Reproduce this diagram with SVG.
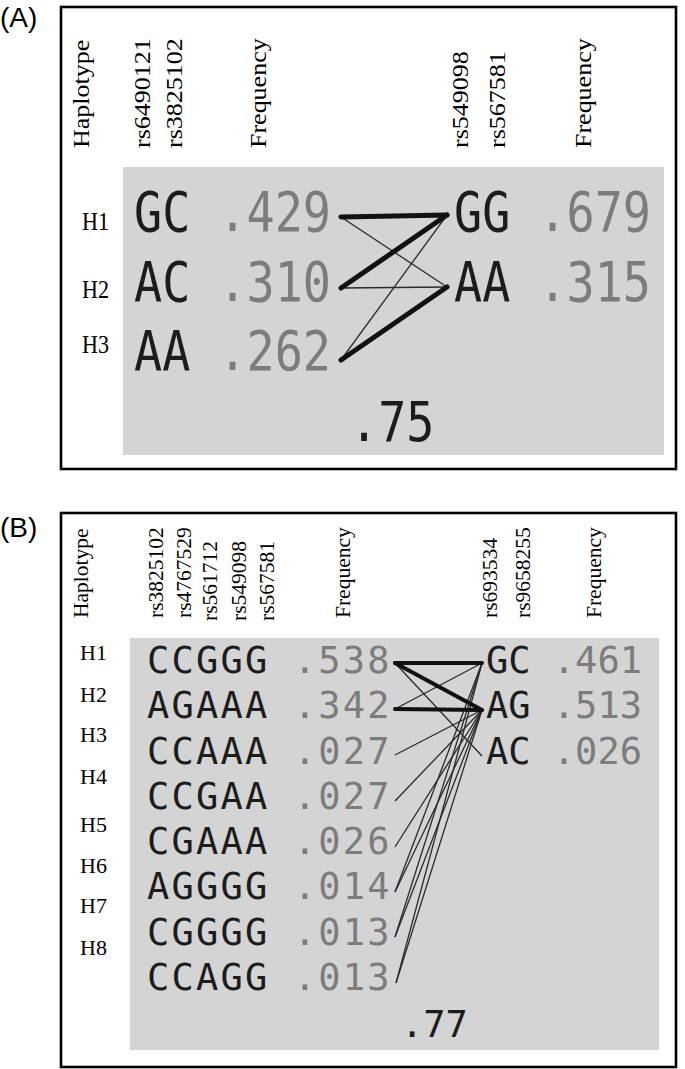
<svg xmlns="http://www.w3.org/2000/svg" width="685" height="1069" viewBox="0 0 685 1069">
<style>
.frame{fill:none;stroke:#000;stroke-width:2.6}
.grey{fill:#d4d4d4}
.panel{font-family:"Liberation Sans",Arial,sans-serif;font-size:28px;fill:#000}
.hdrA{font-family:"Liberation Serif","Times New Roman",serif;font-size:26px;fill:#000}
.hdrB{font-family:"Liberation Serif","Times New Roman",serif;font-size:21.5px;fill:#000}
.hA{font-family:"Liberation Serif","Times New Roman",serif;font-size:26px;fill:#000}
.hB{font-family:"Liberation Serif","Times New Roman",serif;font-size:22px;fill:#000}
.monoA{font-family:"DejaVu Sans Mono",monospace;font-size:55px}
.monoB{font-family:"DejaVu Sans Mono",monospace;font-size:37px}
.sp{letter-spacing:2.2px}
.k{fill:#1c1c1c}
.n{fill:#7c7c7c}
.thick{stroke:#111;stroke-width:5;stroke-linecap:round}
.thickB{stroke:#111;stroke-width:4;stroke-linecap:round}
.thin{stroke:#2a2a2a;stroke-width:1.3}
</style>

<!-- Panel A -->
<g id="panelA">
  <text class="panel" x="0" y="27">(A)</text>
  <rect class="frame" x="61" y="7" width="615" height="462"/>
  <rect class="grey" x="123" y="167" width="541" height="288"/>
  <g id="headersA">
    <text class="hdrA" transform="translate(89,148) scale(0.85,1) rotate(-90)">Haplotype</text>
    <text class="hdrA" transform="translate(150,148) scale(0.85,1) rotate(-90)">rs6490121</text>
    <text class="hdrA" transform="translate(182,148) scale(0.85,1) rotate(-90)">rs3825102</text>
    <text class="hdrA" transform="translate(266,148) scale(0.85,1) rotate(-90)">Frequency</text>
    <text class="hdrA" transform="translate(468,148) scale(0.85,1) rotate(-90)">rs549098</text>
    <text class="hdrA" transform="translate(505,148) scale(0.85,1) rotate(-90)">rs567581</text>
    <text class="hdrA" transform="translate(591,148) scale(0.85,1) rotate(-90)">Frequency</text>
  </g>
  <g id="A-H1">
    <text class="hA" transform="translate(82,230) scale(0.85,1)">H1</text>
    <text class="monoA" xml:space="preserve" transform="translate(134,231) scale(0.85,1)"><tspan class="k">GC</tspan><tspan class="n"> .429</tspan></text>
  </g>
  <g id="A-H2">
    <text class="hA" transform="translate(82,298) scale(0.85,1)">H2</text>
    <text class="monoA" xml:space="preserve" transform="translate(134,301) scale(0.85,1)"><tspan class="k">AC</tspan><tspan class="n"> .310</tspan></text>
  </g>
  <g id="A-H3">
    <text class="hA" transform="translate(82,353) scale(0.85,1)">H3</text>
    <text class="monoA" xml:space="preserve" transform="translate(134,370) scale(0.85,1)"><tspan class="k">AA</tspan><tspan class="n"> .262</tspan></text>
  </g>
  <g id="A-R1">
    <text class="monoA" xml:space="preserve" transform="translate(454,231) scale(0.85,1)"><tspan class="k">GG</tspan><tspan class="n"> .679</tspan></text>
  </g>
  <g id="A-R2">
    <text class="monoA" xml:space="preserve" transform="translate(454,301) scale(0.85,1)"><tspan class="k">AA</tspan><tspan class="n"> .315</tspan></text>
  </g>
  <g id="A-ld">
    <text class="monoA k" transform="translate(350,441) scale(0.85,1)">.75</text>
  </g>
  <g id="connectorsA">
    <line class="thin" x1="341" y1="217" x2="447" y2="287"/>
    <line class="thin" x1="341" y1="288" x2="447" y2="287"/>
    <line class="thin" x1="341" y1="360" x2="447" y2="215"/>
    <line class="thick" x1="341" y1="217" x2="447" y2="215"/>
    <line class="thick" x1="341" y1="288" x2="447" y2="215"/>
    <line class="thick" x1="341" y1="360" x2="447" y2="287"/>
  </g>
</g>

<!-- Panel B -->
<g id="panelB">
  <text class="panel" x="0" y="537">(B)</text>
  <rect class="frame" x="61" y="513" width="615" height="554"/>
  <rect class="grey" x="130" y="638" width="529" height="412"/>
  <g id="headersB">
    <text class="hdrB" transform="translate(88,618) rotate(-90)">Haplotype</text>
    <text class="hdrB" transform="translate(163,618) rotate(-90)">rs3825102</text>
    <text class="hdrB" transform="translate(191,618) rotate(-90)">rs4767529</text>
    <text class="hdrB" transform="translate(217,621) rotate(-90)">rs561712</text>
    <text class="hdrB" transform="translate(246,621) rotate(-90)">rs549098</text>
    <text class="hdrB" transform="translate(274,621) rotate(-90)">rs567581</text>
    <text class="hdrB" transform="translate(350,618) rotate(-90)">Frequency</text>
    <text class="hdrB" transform="translate(497,618) rotate(-90)">rs693534</text>
    <text class="hdrB" transform="translate(530,618) rotate(-90)">rs9658255</text>
    <text class="hdrB" transform="translate(601,618) rotate(-90)">Frequency</text>
  </g>
  <g id="B-H1"><text class="hB" x="80" y="660">H1</text>
    <text class="monoB sp" xml:space="preserve" x="147" y="673"><tspan class="k">CCGGG</tspan><tspan class="n"> .538</tspan></text></g>
  <g id="B-H2"><text class="hB" x="80" y="702">H2</text>
    <text class="monoB sp" xml:space="preserve" x="147" y="718"><tspan class="k">AGAAA</tspan><tspan class="n"> .342</tspan></text></g>
  <g id="B-H3"><text class="hB" x="80" y="742">H3</text>
    <text class="monoB sp" xml:space="preserve" x="147" y="764"><tspan class="k">CCAAA</tspan><tspan class="n"> .027</tspan></text></g>
  <g id="B-H4"><text class="hB" x="80" y="784">H4</text>
    <text class="monoB sp" xml:space="preserve" x="147" y="809"><tspan class="k">CCGAA</tspan><tspan class="n"> .027</tspan></text></g>
  <g id="B-H5"><text class="hB" x="80" y="832">H5</text>
    <text class="monoB sp" xml:space="preserve" x="147" y="854"><tspan class="k">CGAAA</tspan><tspan class="n"> .026</tspan></text></g>
  <g id="B-H6"><text class="hB" x="80" y="873">H6</text>
    <text class="monoB sp" xml:space="preserve" x="147" y="899"><tspan class="k">AGGGG</tspan><tspan class="n"> .014</tspan></text></g>
  <g id="B-H7"><text class="hB" x="80" y="913">H7</text>
    <text class="monoB sp" xml:space="preserve" x="147" y="945"><tspan class="k">CGGGG</tspan><tspan class="n"> .013</tspan></text></g>
  <g id="B-H8"><text class="hB" x="80" y="955">H8</text>
    <text class="monoB sp" xml:space="preserve" x="147" y="990"><tspan class="k">CCAGG</tspan><tspan class="n"> .013</tspan></text></g>
  <g id="B-R1"><text class="monoB" xml:space="preserve" x="486" y="673"><tspan class="k">GC</tspan><tspan class="n"> .461</tspan></text></g>
  <g id="B-R2"><text class="monoB" xml:space="preserve" x="486" y="718"><tspan class="k">AG</tspan><tspan class="n"> .513</tspan></text></g>
  <g id="B-R3"><text class="monoB" xml:space="preserve" x="486" y="764"><tspan class="k">AC</tspan><tspan class="n"> .026</tspan></text></g>
  <g id="B-ld"><text class="monoB k" x="401" y="1037">.77</text></g>
  <g id="connectorsB">
    <line class="thin" x1="395" y1="709" x2="482" y2="663"/>
    <line class="thin" x1="395" y1="663" x2="482" y2="756"/>
    <line class="thin" x1="395" y1="755" x2="482" y2="710"/>
    <line class="thin" x1="395" y1="801" x2="482" y2="710"/>
    <line class="thin" x1="395" y1="847" x2="482" y2="710"/>
    <line class="thin" x1="395" y1="892" x2="482" y2="710"/>
    <line class="thin" x1="395" y1="937" x2="482" y2="710"/>
    <line class="thin" x1="396" y1="983" x2="482" y2="710"/>
    <line class="thin" x1="395" y1="892" x2="482" y2="663"/>
    <line class="thin" x1="395" y1="937" x2="482" y2="663"/>
    <line class="thin" x1="396" y1="983" x2="482" y2="663"/>
    <line class="thickB" x1="395" y1="663" x2="482" y2="663"/>
    <line class="thickB" x1="395" y1="663" x2="482" y2="710"/>
    <line class="thickB" x1="395" y1="709" x2="482" y2="710"/>
  </g>
</g>
</svg>
